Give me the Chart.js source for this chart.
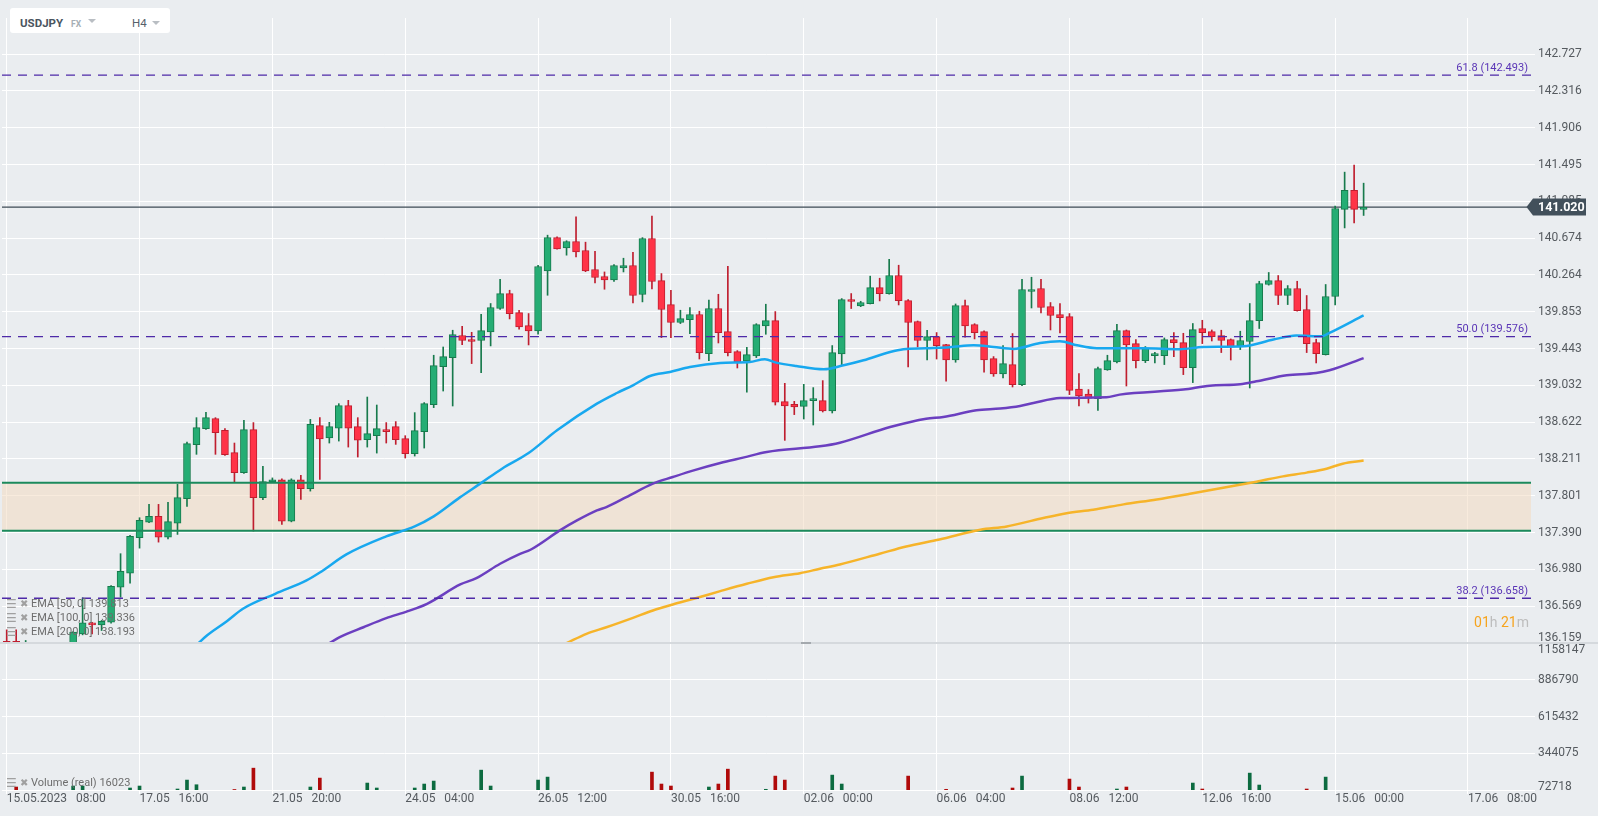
<!DOCTYPE html>
<html>
<head>
<meta charset="utf-8">
<title>USDJPY H4</title>
<script src="https://cdn.jsdelivr.net/npm/chart.js@4.4.1/dist/chart.umd.min.js"></script>
<style>
  html, body { margin:0; padding:0; }
  body { width:1598px; height:816px; overflow:hidden; position:relative; background:#eaedf0; font-family: Roboto, 'Noto Sans', sans-serif; }
  #pw { position:absolute; left:0; top:0; width:1598px; height:660px; z-index:1; }
  #vw { position:absolute; left:0; top:630px; width:1598px; height:186px; z-index:2; }
  .sep { position:absolute; left:0; top:642px; width:1598px; height:2px; background:#d5d9dd; z-index:3; }
  .handle { position:absolute; left:801px; top:642px; width:10px; height:2px; background:#a4a9ae; z-index:4; }
  .hdr { position:absolute; left:10px; top:8px; width:160px; height:25px; background:#fff; border-radius:3px; z-index:5; }
  .hdr span { position:absolute; white-space:nowrap; }
  .sym { left:10px; top:8px; font-weight:bold; font-size:11.5px; color:#4a5560; line-height:14px; }
  .fx { left:61px; top:10px; font-weight:bold; font-size:8.5px; color:#a6aeb5; line-height:12px; }
  .tri { width:0; height:0; border-left:4px solid transparent; border-right:4px solid transparent; border-top:4px solid #b9bec3; }
  .tf { left:122px; top:8px; font-size:11.5px; color:#56616b; line-height:14px; }
  .leg { position:absolute; left:6px; height:14px; font-size:11px; color:#6d6d6d; line-height:14px; white-space:pre; z-index:5; }
  .leg span { position:absolute; top:0; }
  .ic { color:#a0a0a0; font-family:'DejaVu Sans', sans-serif; font-size:12px; }
  .ic.x { font-size:10px; }
  .cd { position:absolute; right:69px; top:614px; font-size:14px; line-height:17px; z-index:5; white-space:pre; }
  .cd .o { color:#f6a41e; } .cd .g { color:#bdbdbd; }
</style>
</head>
<body>
<div id="pw"><canvas id="pc" width="1598" height="660"></canvas></div>
<div id="vw"><canvas id="vc" width="1598" height="186"></canvas></div>
<div class="sep"></div>
<div class="handle"></div>
<div class="hdr">
  <span class="sym">USDJPY</span>
  <span class="fx">FX</span>
  <span class="tri" style="left:78px;top:11px"></span>
  <span class="tf">H4</span>
  <span class="tri" style="left:142px;top:13px"></span>
</div>
<div id="legends"></div>
<div class="cd"><span class="o">01</span><span class="g">h</span><span class="o"> 21</span><span class="g">m</span></div>
<script>
// ---------------- DATA ----------------
const timeTickIdx = [0, 14, 28, 42, 56, 70, 84, 98, 112, 126, 140, 154];
const timeTickLabels = ['15.05.2023   08:00', '17.05   16:00', '21.05   20:00', '24.05   04:00', '26.05   12:00', '30.05   16:00',
  '02.06   00:00', '06.06   04:00', '08.06   12:00', '12.06   16:00', '15.06   00:00', '17.06   08:00'];

const priceTicks = [136.159, 136.569, 136.980, 137.390, 137.801, 138.211, 138.622, 139.032, 139.443, 139.853,
  140.264, 140.674, 141.085, 141.495, 141.906, 142.316, 142.727];
const volumeTicks = [72718, 344075, 615432, 886790, 1158147];

const opens = [
  136.179,136.179,135.950,136.100,135.990,136.050,136.020,136.080,136.261,136.384,
  136.362,136.391,136.782,136.938,137.333,137.507,137.571,137.340,137.496,137.768,
  138.371,138.549,138.661,138.531,138.282,138.059,138.539,137.780,137.954,137.980,
  137.518,137.980,137.880,138.583,138.446,138.556,138.806,138.572,138.426,138.471,
  138.539,138.572,138.438,138.270,138.516,138.817,139.241,139.342,139.588,139.543,
  139.532,139.628,139.889,140.056,139.844,139.699,139.639,140.308,140.681,140.565,
  140.637,140.536,140.324,140.246,140.208,140.342,140.369,140.045,140.670,140.201,
  139.933,139.733,139.766,139.822,139.387,139.889,139.632,139.409,139.304,139.360,
  139.695,139.755,138.850,138.821,138.798,138.862,138.862,138.746,139.382,139.989,
  139.918,139.944,140.123,140.056,140.257,139.978,139.744,139.532,139.576,139.487,
  139.315,139.922,139.710,139.632,139.331,139.159,139.264,139.041,140.079,140.112,
  139.911,139.822,139.799,138.992,138.935,138.884,139.204,139.293,139.643,139.498,
  139.308,139.364,139.364,139.543,139.509,139.230,139.665,139.632,139.588,139.543,
  139.476,139.521,139.755,140.157,140.201,140.034,140.112,139.878,139.509,139.375,
  140.023,140.994,141.206,140.994];
const highs = [
  136.306,136.306,136.187,136.140,136.080,136.130,136.120,136.285,136.663,136.390,
  136.410,136.800,137.155,137.360,137.556,137.705,137.705,137.727,137.928,138.400,
  138.672,138.731,138.672,138.550,138.389,138.642,138.617,138.129,138.000,137.990,
  137.990,138.028,138.653,138.672,138.620,138.828,138.865,138.672,138.902,138.813,
  138.617,138.628,138.471,138.728,138.840,139.368,139.460,139.647,139.691,139.624,
  139.825,139.945,140.216,140.093,139.870,139.833,140.372,140.707,140.690,140.645,
  140.911,140.629,140.528,140.297,140.380,140.450,140.517,140.680,140.919,140.279,
  140.093,139.870,139.900,139.859,139.982,140.048,140.361,139.420,139.457,139.720,
  139.937,139.855,139.055,138.854,139.044,139.007,139.085,139.476,140.000,140.056,
  139.970,140.250,140.227,140.439,140.372,139.990,139.750,139.647,139.621,139.490,
  139.940,139.982,139.720,139.640,139.353,139.476,139.610,140.216,140.238,140.216,
  139.956,139.945,139.833,139.163,138.985,139.237,139.368,139.714,139.650,139.543,
  139.465,139.400,139.561,139.621,139.613,139.722,139.758,139.650,139.647,139.550,
  139.636,139.945,140.193,140.291,140.257,140.145,140.193,140.034,139.547,140.157,
  141.031,141.410,141.488,141.287];
const lows = [
  135.980,135.980,135.900,135.950,135.900,135.980,135.960,136.020,136.250,136.261,
  136.298,136.380,136.670,136.826,137.217,137.500,137.284,137.320,137.370,137.682,
  138.263,138.540,138.263,138.250,137.954,138.050,137.407,137.757,137.950,137.482,
  137.510,137.760,137.853,137.984,138.389,138.411,138.344,138.233,138.344,138.277,
  138.389,138.374,138.222,138.244,138.333,138.784,138.969,138.802,139.487,139.275,
  139.175,139.472,139.880,139.773,139.658,139.483,139.602,140.037,140.550,140.484,
  140.465,140.300,140.175,140.104,140.190,140.297,139.951,139.963,140.108,139.565,
  139.565,139.721,139.610,139.326,139.308,139.505,139.360,139.226,138.955,139.342,
  139.602,138.813,138.419,138.706,138.657,138.590,138.735,138.724,139.260,139.889,
  139.910,139.940,139.974,140.050,139.929,139.237,139.460,139.315,139.326,139.080,
  139.290,139.569,139.550,139.178,139.133,139.114,139.014,139.030,139.895,139.840,
  139.650,139.617,138.929,138.802,138.835,138.754,139.200,139.282,139.025,139.226,
  139.286,139.282,139.264,139.353,139.152,139.063,139.498,139.527,139.398,139.315,
  139.431,139.003,139.666,140.150,139.933,139.933,139.860,139.398,139.282,139.370,
  139.929,140.788,140.844,140.927];
const closes = [
  136.050,136.050,136.100,135.990,136.050,136.020,136.080,136.280,136.384,136.362,
  136.402,136.790,136.957,137.348,137.526,137.571,137.340,137.512,137.780,138.382,
  138.561,138.672,138.505,138.259,138.059,138.539,137.780,137.958,137.980,137.518,
  137.980,137.880,138.598,138.434,138.572,138.806,138.556,138.422,138.494,138.550,
  138.516,138.426,138.270,138.527,138.828,139.253,139.353,139.599,139.532,139.521,
  139.643,139.900,140.056,139.833,139.683,139.639,140.358,140.681,140.554,140.637,
  140.520,140.308,140.235,140.208,140.369,140.369,140.034,140.670,140.190,139.878,
  139.733,139.777,139.822,139.398,139.889,139.621,139.398,139.293,139.375,139.710,
  139.755,138.846,138.802,138.791,138.862,138.885,138.746,139.398,139.989,139.967,
  139.956,140.123,140.056,140.257,139.978,139.733,139.532,139.576,139.476,139.315,
  139.922,139.695,139.621,139.315,139.159,139.275,139.041,140.101,140.101,139.900,
  139.811,139.788,138.977,138.914,138.888,139.219,139.308,139.643,139.483,139.308,
  139.442,139.387,139.543,139.509,139.230,139.654,139.621,139.576,139.532,139.460,
  139.532,139.755,140.168,140.201,140.034,140.112,139.866,139.498,139.387,140.023,
  141.005,141.206,140.994,141.020];
const volumes = [
  null,94700,null,null,null,null,null,102000,102000,null,
  null,null,null,87400,102000,null,null,null,80000,146000,
  111600,null,null,null,76400,94700,234000,null,null,null,
  null,null,94700,160700,null,null,null,null,124000,87400,
  null,null,null,87400,116700,138700,null,null,null,null,
  219400,102000,null,null,null,null,146000,168000,null,null,
  null,null,null,null,null,null,null,null,204700,116700,
  102000,null,null,null,94700,116700,226700,null,null,null,
  77900,175400,146000,null,null,null,null,182700,116700,null,
  null,null,null,null,null,175400,null,null,null,77900,
  null,null,null,null,null,null,87400,175400,null,null,
  null,null,153400,94700,null,null,null,80000,94700,null,
  null,null,null,null,null,124000,80000,null,null,null,
  null,197400,109400,null,null,null,null,80000,null,168000,
  null,null,null,16023];

const ema50X = [20.2,21.1,23.2,24.9,28.3,31.6,33.0,35.8,40.0,43.0,45.0,47.8,49.9,52.2,55.0,58.0,62.2,64.3,66.0,67.8,
  69.9,72.0,75.2,78.3,79.9,81.1,83.2,86.1,88.2,90.3,93.1,94.5,96.9,99.4,101.9,104.0,106.1,108.9,111.0,112.8,
  114.9,119.8,123.6,126.1,130.3,133.5,135.9,138.6,139.4,143.0];
const ema50Y = [136.157,136.243,136.402,136.541,136.708,136.857,136.945,137.147,137.348,137.459,137.571,137.786,137.936,138.103,138.277,138.531,138.828,138.947,139.033,139.137,
  139.181,139.237,139.282,139.293,139.323,139.286,139.248,139.211,139.256,139.312,139.404,139.435,139.446,139.457,139.479,139.460,139.438,139.505,139.524,139.479,
  139.446,139.446,139.435,139.460,139.468,139.543,139.587,139.580,139.617,139.813];
const ema100X = [33.9,35.1,37.6,40.0,42.2,44.3,47.8,49.5,52.0,54.1,55.2,58.3,60.1,62.2,63.2,65.3,68.1,70.2,72.4,75.2,
  77.6,80.1,85.7,87.8,93.1,96.9,98.7,102.2,104.7,106.8,108.2,111.0,115.9,117.3,124.0,126.8,130.0,131.7,134.9,138.0,
  139.4,143.0];
const ema100Y = [136.150,136.224,136.335,136.436,136.511,136.596,136.812,136.882,137.043,137.154,137.199,137.415,137.526,137.638,137.675,137.786,137.936,138.010,138.084,138.166,
  138.226,138.289,138.352,138.393,138.568,138.661,138.679,138.754,138.773,138.802,138.835,138.891,138.899,138.929,138.985,139.029,139.044,139.077,139.145,139.170,
  139.200,139.336];
const ema200X = [59.0,61.1,63.2,66.0,68.1,70.2,72.4,75.2,78.0,80.8,83.6,85.7,87.8,92.0,94.8,98.3,102.6,105.4,108.9,111.7,
  114.5,117.7,121.2,124.7,128.2,131.7,134.5,137.0,139.1,140.8,143.0];
const ema200Y = [136.157,136.261,136.335,136.440,136.522,136.589,136.652,136.737,136.819,136.893,136.938,136.987,137.035,137.155,137.236,137.314,137.422,137.459,137.545,137.607,
  137.645,137.705,137.760,137.824,137.891,137.958,138.017,138.059,138.103,138.159,138.193];

const fibLevels = [142.493, 139.576, 136.658];
const fibLabels = ['61.8 (142.493)', '50.0 (139.576)', '38.2 (136.658)'];
const zoneHigh = 137.947;
const zoneLow = 137.411;
const lastPrice = 141.020;
const lastVolume = 16023;

// ---------------- AXIS LIMITS / STYLE ----------------
const X_MIN = -0.495, X_MAX = 160.64;
const P_MIN = 136.159, P_MAX = 143.129;
const V_MIN = 72718, V_MAX = 1158147;

const GREEN = '#25ad74', GREEN_D = '#177a4c', RED = '#ff3347', RED_D = '#bf1e2f';
const VGREEN = '#0c6b40', VRED = '#b00a0a';
const ZONE = '#1b8a5c';
const FIB = '#4e2aa8';
const TXT = '#555a5f';

const isUp = i => closes[i] >= opens[i];
const xy = (xs, ys) => xs.map((x, k) => ({x, y: ys[k]}));
const hline = v => [{x: X_MIN, y: v}, {x: X_MAX, y: v}];

const bodies = opens.map((o, i) => ({x: i, y: [o, closes[i]]}));
const wicks = opens.map((o, i) => ({x: i, y: [lows[i], highs[i]]}));
const volBars = volumes.map((v, i) => ({x: i, y: v}));

// legends
const legendRows = [
  ['EMA [50, 0] ' + ema50Y[ema50Y.length - 1].toFixed(3), 597],
  ['EMA [100, 0] ' + ema100Y[ema100Y.length - 1].toFixed(3), 611],
  ['EMA [200, 0] ' + ema200Y[ema200Y.length - 1].toFixed(3), 625],
  ['Volume (real) ' + lastVolume, 776]
];
document.getElementById('legends').innerHTML = legendRows.map(([t, top]) =>
  `<div class="leg" style="top:${top}px"><span class="ic" style="left:0">☰</span><span class="ic x" style="left:14px">✖</span><span style="left:25px">${t}</span></div>`).join('');

// ---------------- SHARED SCALE HELPERS ----------------
const setTimeTicks = s => { s.ticks = timeTickIdx.map(v => ({value: v})); };
const gridStyle = {color: '#ffffff', lineWidth: 1, tickLength: 4, offset: false};

const shiftLabels = {
  id: 'shiftLabels',
  beforeDraw(chart, args, opts) {
    const s = chart.scales.y;
    s.getLabelItems().forEach(it => {
      const d = opts.shift && opts.shift[it.label];
      if (d) it.options.translation[1] += d;
    });
  }
};

const priceOverlay = {
  id: 'priceOverlay',
  afterDraw(chart) {
    const {ctx, chartArea, scales: {y}} = chart;
    ctx.save();
    ctx.font = '11px Roboto';
    ctx.fillStyle = '#5a35b6';
    ctx.textAlign = 'right';
    ctx.textBaseline = 'alphabetic';
    fibLevels.forEach((v, k) => ctx.fillText(fibLabels[k], chartArea.right - 3, y.getPixelForValue(v) - 4.5));
    const py = y.getPixelForValue(lastPrice);
    const r = chartArea.right;
    ctx.fillStyle = '#42505b';
    ctx.beginPath();
    ctx.moveTo(r - 4.5, py);
    ctx.lineTo(r + 2, py - 8.5);
    ctx.lineTo(r + 55, py - 8.5);
    ctx.lineTo(r + 55, py + 8.5);
    ctx.lineTo(r + 2, py + 8.5);
    ctx.closePath();
    ctx.fill();
    ctx.fillStyle = '#ffffff';
    ctx.font = 'bold 12.5px Roboto';
    ctx.textAlign = 'left';
    ctx.textBaseline = 'middle';
    ctx.fillText(lastPrice.toFixed(3), r + 7, py + 0.5);
    ctx.restore();
  }
};

const lineDs = (data, color, width, order, extra) => Object.assign({
  type: 'line', data, borderColor: color, borderWidth: width, pointRadius: 0, fill: false,
  order, clip: 0, cubicInterpolationMode: 'monotone'
}, extra || {});

// ---------------- PRICE CHART ----------------
new Chart(document.getElementById('pc'), {
  type: 'bar',
  data: {
    datasets: [
      lineDs(hline(zoneLow), 'rgba(0,0,0,0)', 0, 30, {fill: {value: zoneHigh}, backgroundColor: 'rgba(243,219,193,0.55)'}),
      lineDs(hline(lastPrice), '#3e4b56', 1.2, 20),
      {type: 'bar', data: wicks, grouped: false, barThickness: 1, borderWidth: 0, order: 6, clip: 0,
        backgroundColor: c => isUp(c.dataIndex) ? GREEN_D : RED_D},
      {type: 'bar', data: bodies, grouped: false, barThickness: 7, borderWidth: 1, borderSkipped: false,
        minBarLength: 2, order: 5, clip: 0,
        backgroundColor: c => isUp(c.dataIndex) ? GREEN : RED,
        borderColor: c => isUp(c.dataIndex) ? GREEN_D : RED_D},
      lineDs(hline(zoneHigh), ZONE, 2, 4),
      lineDs(hline(zoneLow), ZONE, 2, 4),
      lineDs(xy(ema200X, ema200Y), '#f6b42a', 2.5, 3),
      lineDs(xy(ema100X, ema100Y), '#6b3fc0', 2.5, 2),
      lineDs(xy(ema50X, ema50Y), '#18a8ef', 2.5, 1),
      ...fibLevels.map(v => lineDs(hline(v), FIB, 1.3, 0, {borderDash: [9, 7]}))
    ]
  },
  options: {
    responsive: false,
    animation: false,
    events: [],
    layout: {padding: {top: 18, bottom: 17, left: 2, right: 0}},
    plugins: {legend: {display: false}, tooltip: {enabled: false}, shiftLabels: {shift: {'136.159': -5}}},
    scales: {
      x: {
        type: 'linear', min: X_MIN, max: X_MAX, bounds: 'data', offset: false,
        afterBuildTicks: setTimeTicks,
        afterFit: s => { s.height = 0; },
        ticks: {display: false},
        grid: Object.assign({}, gridStyle, {drawTicks: false}),
        border: {display: false}
      },
      y: {
        type: 'linear', position: 'right', min: P_MIN, max: P_MAX, bounds: 'data', beginAtZero: false,
        afterBuildTicks: s => { s.ticks = priceTicks.map(v => ({value: v})); },
        afterFit: s => { s.width = 67; },
        ticks: {color: TXT, font: {family: 'Roboto', size: 12}, padding: 3, callback: v => Number(v).toFixed(3)},
        grid: gridStyle,
        border: {display: false}
      }
    }
  },
  plugins: [shiftLabels, priceOverlay]
});

// ---------------- VOLUME CHART ----------------
new Chart(document.getElementById('vc'), {
  type: 'bar',
  data: {
    datasets: [{
      type: 'bar', data: volBars, grouped: false, barThickness: 3, borderWidth: 0, clip: 0,
      backgroundColor: c => isUp(c.dataIndex) ? VGREEN : VRED
    }]
  },
  options: {
    responsive: false,
    animation: false,
    events: [],
    layout: {padding: {top: 13, bottom: 0, left: 2, right: 0}},
    plugins: {legend: {display: false}, tooltip: {enabled: false}, shiftLabels: {shift: {'1158147': 7, '72718': -3.5}}},
    scales: {
      x: {
        type: 'linear', min: X_MIN, max: X_MAX, bounds: 'data', offset: false,
        afterBuildTicks: setTimeTicks,
        afterFit: s => { s.height = 26; },
        ticks: {color: TXT, font: {family: 'Roboto', size: 12}, padding: -2, align: 'start',
          autoSkip: false, maxRotation: 0, minRotation: 0,
          callback: (v, i) => timeTickLabels[i]},
        grid: gridStyle,
        border: {display: false}
      },
      y: {
        type: 'linear', position: 'right', min: V_MIN, max: V_MAX, bounds: 'data', beginAtZero: false,
        afterBuildTicks: s => { s.ticks = volumeTicks.map(v => ({value: v})); },
        afterFit: s => { s.width = 67; },
        ticks: {color: TXT, font: {family: 'Roboto', size: 12}, padding: 3, callback: v => String(v)},
        grid: gridStyle,
        border: {display: false}
      }
    }
  },
  plugins: [shiftLabels]
});
</script>
</body>
</html>
